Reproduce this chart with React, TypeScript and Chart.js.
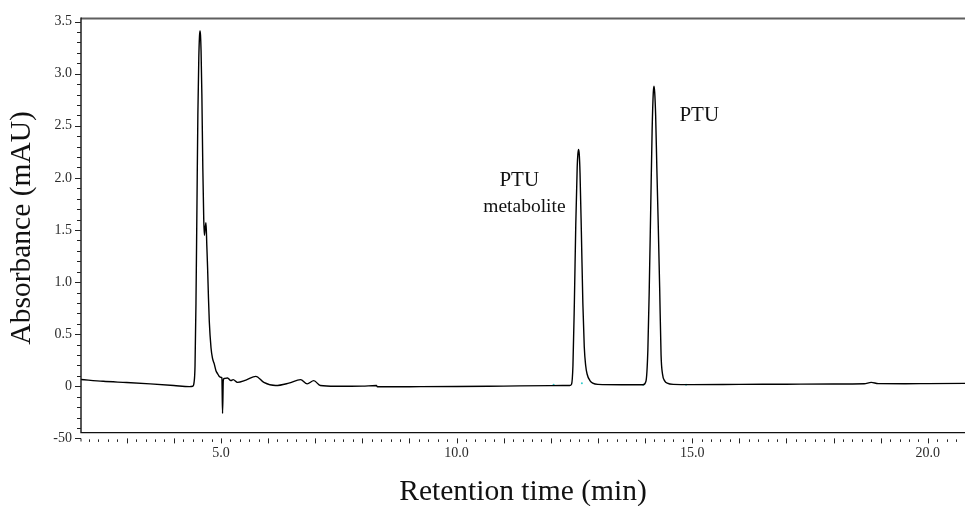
import React, { useEffect, useRef } from 'react';
import { Chart, registerables } from 'chart.js';

Chart.register(...registerables);

// Chromatogram trace: retention time (min) and absorbance
const TIME = [
  2.03, 2.5, 3.0, 3.5, 4.0, 4.33, 4.40, 4.43, 4.45, 4.47, 4.49, 4.51, 4.53, 4.545, 4.556,
  4.566, 4.578, 4.595, 4.615, 4.635, 4.648, 4.665, 4.683, 4.70, 4.717, 4.735, 4.753, 4.789,
  4.82, 4.858, 4.894, 4.93, 4.964, 5.01, 5.02, 5.034, 5.05, 5.07, 5.14, 5.21, 5.26,
  5.35, 5.53, 5.74, 5.91, 6.16, 6.44, 6.69, 6.83, 6.97, 7.11, 7.43, 8.0, 8.30, 8.32,
  9.0, 10.0, 11.0, 12.0, 12.40, 12.44, 12.47, 12.50, 12.53, 12.56, 12.575, 12.59, 12.605,
  12.62, 12.65, 12.68, 12.71, 12.74, 12.77, 12.83, 12.89, 13.0, 13.5, 13.96, 14.02, 14.06,
  14.09, 14.12, 14.15, 14.175, 14.19, 14.205, 14.225, 14.25, 14.28, 14.31, 14.34, 14.37,
  14.42, 14.47, 14.6, 15.0, 16.0, 17.0, 18.0, 18.65, 18.8, 18.95, 19.5, 20.0, 20.79,
];
const ABS = [
  0.065, 0.048, 0.036, 0.023, 0.008, -0.003, 0.0, 0.04, 0.2, 0.8, 1.7, 2.6, 3.15, 3.36, 3.41,
  3.37, 3.22, 2.8, 2.1, 1.6, 1.45, 1.52, 1.57, 1.35, 1.13, 0.85, 0.62, 0.37,
  0.27, 0.215, 0.15, 0.12, 0.095, 0.085, 0.08, -0.26, 0.06, 0.075, 0.08, 0.054, 0.064,
  0.038, 0.06, 0.095, 0.038, 0.007, 0.03, 0.064, 0.023, 0.054, 0.007, 0.0, 0.002, 0.007, -0.005,
  -0.004, -0.002, 0.002, 0.006, 0.008, 0.02, 0.2, 0.8, 1.55, 2.1, 2.23, 2.274, 2.22,
  2.05, 1.45, 0.8, 0.38, 0.2, 0.118, 0.055, 0.03, 0.018, 0.015, 0.015, 0.05, 0.35,
  0.95, 1.7, 2.45, 2.82, 2.88, 2.82, 2.6, 2.1, 1.55, 0.95, 0.3, 0.12,
  0.05, 0.03, 0.018, 0.016, 0.018, 0.02, 0.022, 0.024, 0.038, 0.026, 0.025, 0.026, 0.028,
];

// small cyan integration markers on the baseline
const MARK_TIME = [12.06, 12.66, 13.96, 14.87];
const MARK_ABS = [0.016, 0.03, 0.016, 0.016];

// axis ticks
const X_MIN = 2.03;
const X_MAX = 20.79;
const X_LABEL_VALUES = [5, 10, 15, 20];
const X_LABELS = ['5.0', '10.0', '15.0', '20.0'];
const Y_MIN = -0.5;
const Y_MAX = 3.54;
const Y_FRAME_BOTTOM = -0.445;
const Y_LABEL_VALUES = [-0.5, 0, 0.5, 1.0, 1.5, 2.0, 2.5, 3.0, 3.5];
const Y_LABELS = ['-50', '0', '0.5', '1.0', '1.5', '2.0', '2.5', '3.0', '3.5'];

const PEAK_LABELS = ['PTU', 'PTU', 'metabolite'];
const PEAK_LABEL_TIME = [15.15, 11.33, 11.44];
const PEAK_LABEL_ABS = [2.546, 1.92, 1.674];
const PEAK_LABEL_SIZE = [21, 21, 19.5];

const FONT = '"Liberation Serif", "Times New Roman", serif';

const near = (a: number, b: number) => Math.abs(a - b) < 1e-6;

const framePlugin = {
  id: 'framePlugin',
  afterDraw(chart: any) {
    const { ctx, chartArea } = chart;
    const x = chart.scales.x;
    const y = chart.scales.y;
    const bottom = y.getPixelForValue(Y_FRAME_BOTTOM);
    const left = chartArea.left;
    const right = chartArea.right;
    ctx.save();
    // top border
    ctx.strokeStyle = '#5f5f5f';
    ctx.lineWidth = 2;
    ctx.beginPath();
    ctx.moveTo(left, chartArea.top + 1);
    ctx.lineTo(right, chartArea.top + 1);
    ctx.stroke();
    // left and bottom frame
    ctx.strokeStyle = '#111';
    ctx.lineWidth = 1.4;
    ctx.beginPath();
    ctx.moveTo(left, chartArea.top);
    ctx.lineTo(left, bottom);
    ctx.lineTo(right, bottom);
    ctx.stroke();

    // y ticks (major every 0.5, minor every 0.1)
    ctx.strokeStyle = '#222';
    ctx.lineWidth = 1;
    for (let i = -5; i <= 35; i++) {
      const v = i / 10;
      const py = Math.round(y.getPixelForValue(v)) + 0.5;
      const major = i % 5 === 0;
      const len = major ? 6 : 4;
      ctx.beginPath();
      if (i === -5) {
        ctx.moveTo(left - len, py);
        ctx.lineTo(left, py);
        ctx.lineTo(left, py + 3);
      } else {
        ctx.moveTo(left - len, py);
        ctx.lineTo(left, py);
      }
      ctx.stroke();
    }
    // x ticks (major every 1, minor every 0.2) under the frame
    const ty = y.getPixelForValue(Y_MIN);
    for (let i = 11; i <= 104; i++) {
      const v = i / 5;
      if (v < X_MIN || v > X_MAX) continue;
      const px = Math.round(x.getPixelForValue(v)) + 0.5;
      const major = i % 5 === 0;
      ctx.beginPath();
      ctx.moveTo(px, major ? ty : ty + 1);
      ctx.lineTo(px, major ? ty + 5 : ty + 3.5);
      ctx.stroke();
    }

    // peak annotations
    ctx.fillStyle = '#111';
    ctx.textAlign = 'center';
    ctx.textBaseline = 'alphabetic';
    PEAK_LABELS.forEach((t, i) => {
      ctx.font = `${PEAK_LABEL_SIZE[i]}px ${FONT}`;
      ctx.fillText(t, x.getPixelForValue(PEAK_LABEL_TIME[i]), y.getPixelForValue(PEAK_LABEL_ABS[i]));
    });
    ctx.restore();
  },
};

export default function App() {
  const ref = useRef<HTMLCanvasElement>(null);
  useEffect(() => {
    document.body.style.margin = '0';
    const canvas = ref.current as HTMLCanvasElement;
    const chart = new Chart(canvas, {
      type: 'line',
      data: {
        datasets: [
          {
            data: TIME.map((t, i) => ({ x: t, y: ABS[i] })),
            borderColor: '#000',
            borderWidth: 1.4,
            pointRadius: 0,
            fill: false,
            cubicInterpolationMode: 'monotone',
          },
          {
            type: 'scatter',
            data: MARK_TIME.map((t, i) => ({ x: t, y: MARK_ABS[i] })),
            pointRadius: 1,
            pointBackgroundColor: '#33cccc',
            pointBorderWidth: 0,
            showLine: false,
          },
        ],
      } as any,
      options: {
        animation: false,
        responsive: false,
        events: [],
        layout: { padding: { top: 12.7, left: 0, right: 0, bottom: 0 } },
        plugins: { legend: { display: false }, tooltip: { enabled: false } },
        scales: {
          x: {
            type: 'linear',
            min: X_MIN,
            max: X_MAX,
            border: { display: false },
            grid: { display: false, drawTicks: false, tickLength: 0 },
            afterBuildTicks: (s: any) => {
              s.ticks = X_LABEL_VALUES.map((v) => ({ value: v }));
            },
            ticks: {
              autoSkip: false,
              maxRotation: 0,
              padding: 7,
              color: '#2a2a2a',
              font: { family: FONT, size: 14 },
              callback: (v: any) => {
                const idx = X_LABEL_VALUES.findIndex((t) => near(t, Number(v)));
                return idx >= 0 ? X_LABELS[idx] : '';
              },
            },
            title: {
              display: true,
              text: 'Retention time (min)',
              color: '#111',
              font: { family: FONT, size: 29.5, lineHeight: 1 },
              padding: { top: 0, bottom: -0.5 },
            },
            afterFit: (s: any) => {
              s.height = 506 - 438.4;
            },
          },
          y: {
            type: 'linear',
            min: Y_MIN,
            max: Y_MAX,
            border: { display: false },
            grid: { display: false, drawTicks: false, tickLength: 0 },
            afterBuildTicks: (s: any) => {
              s.ticks = Y_LABEL_VALUES.map((v) => ({ value: v }));
            },
            ticks: {
              autoSkip: false,
              padding: 9,
              color: '#2a2a2a',
              font: { family: FONT, size: 14 },
              callback: (v: any) => {
                const idx = Y_LABEL_VALUES.findIndex((t) => near(t, Number(v)));
                return idx >= 0 ? Y_LABELS[idx] : '';
              },
            },
            title: {
              display: true,
              text: 'Absorbance (mAU)',
              color: '#111',
              font: { family: FONT, size: 29.5, lineHeight: 1 },
              padding: { top: 7.5, bottom: 0 },
            },
            afterFit: (s: any) => {
              s.width = 81;
            },
          },
        },
      } as any,
      plugins: [framePlugin],
    });
    return () => chart.destroy();
  }, []);
  return <canvas ref={ref} width={969} height={506} style={{ display: 'block' }} />;
}
